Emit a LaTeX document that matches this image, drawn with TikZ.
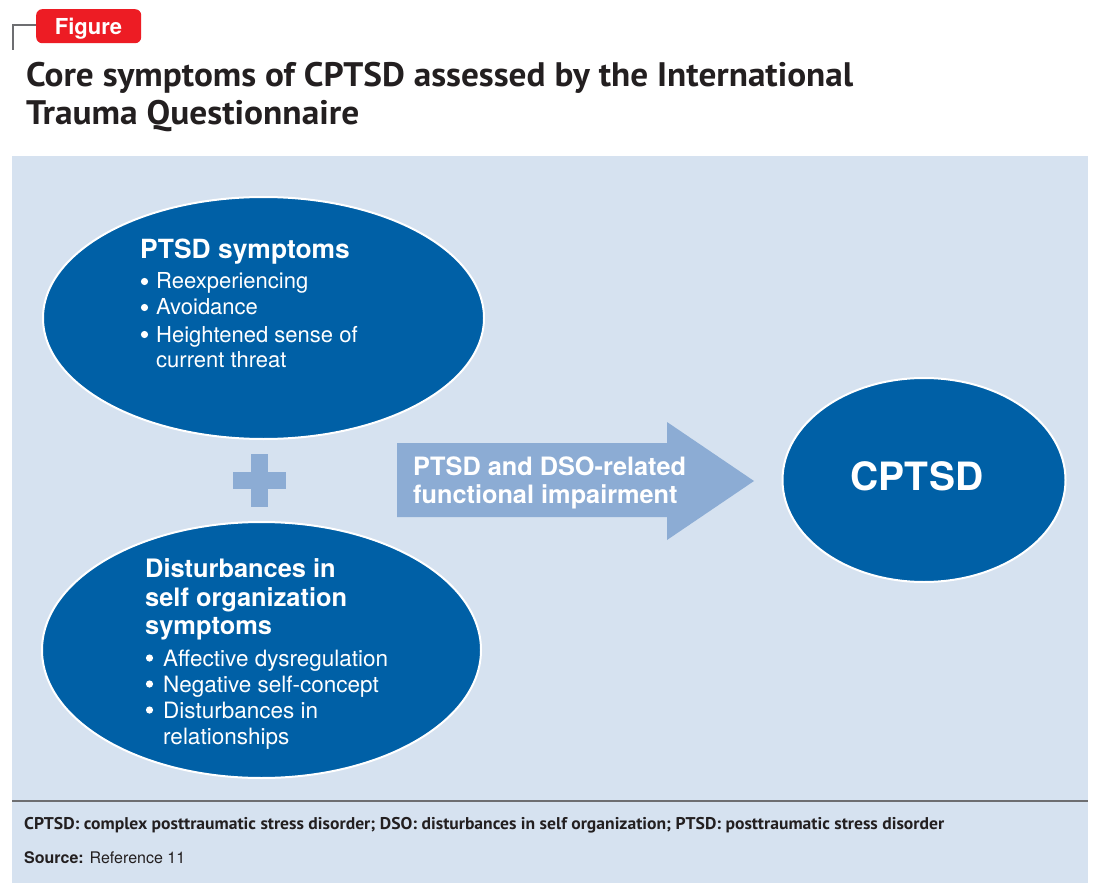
\documentclass[tikz,border=0pt]{standalone}
\usepackage{fontspec}
\usepackage{graphicx}
\setmainfont{TeX Gyre Heros}
\newfontfamily\titlefont{PT Sans}
\usetikzlibrary{shapes.geometric,calc}
\definecolor{dblue}{RGB}{0,96,166}
\definecolor{panel}{RGB}{214,226,240}
\definecolor{lblue}{RGB}{140,172,212}
\definecolor{figred}{RGB}{237,28,36}
\definecolor{ink}{RGB}{35,31,32}
\definecolor{rulegray}{RGB}{109,110,113}
\begin{document}
\begin{tikzpicture}[x=1pt,y=-1pt,
  blob/.style={ellipse, fill=dblue, draw=white, line width=2pt, inner sep=0pt},
  txt/.style={anchor=base west, inner sep=0pt, text=white},
  head/.style={txt, font=\bfseries\fontsize{26.4}{30}\selectfont},
  headb/.style={txt, font=\bfseries\fontsize{25.4}{30}\selectfont},
  item/.style={txt, font=\fontsize{22}{26}\selectfont},
  itemb/.style={txt, font=\fontsize{22.5}{26}\selectfont},
  arrowtxt/.style={txt, font=\bfseries\fontsize{25.3}{28}\selectfont},
  ttl/.style={anchor=base west, inner sep=0pt, text=ink, font=\titlefont\bfseries\fontsize{34}{38}\selectfont},
  foot/.style={anchor=base west, inner sep=0pt, text=ink},
  dot/.style={fill=white},
]
\useasboundingbox (0,0) rectangle (1100,893);
\fill[white] (0,0) rectangle (1100,893);

% header tag
\coordinate (brk) at (13,50);
\coordinate (brkend) at (37,25);
\draw[rulegray, line width=2.5pt] (brk) |- (brkend);
\node[fill=figred, rounded corners=6pt, minimum width=105pt, minimum height=34pt, anchor=north west, inner sep=0pt] (tag) at (36,9) {};
\node[anchor=base, inner sep=0pt, text=white, font=\bfseries\fontsize{22}{26}\selectfont] (taglbl) at (88.5,35) {Figure};

% title
\node[ttl] (title1) at (26,87) {\resizebox{827pt}{\height}{Core symptoms of CPTSD assessed by the International}};
\node[ttl] (title2) at (26,125) {\resizebox{333pt}{\height}{Trauma Questionnaire}};

% panel
\fill[panel] (12,156) rectangle (1088,883);
\coordinate (ruleL) at (12,801);
\coordinate (ruleR) at (1088,801);
\draw[rulegray, line width=1.2pt] (ruleL) -- (ruleR);

% footnotes
\node[foot, font=\titlefont\bfseries\fontsize{17}{20}\selectfont] (abbr) at (24,829) {\resizebox{920pt}{\height}{CPTSD: complex posttraumatic stress disorder; DSO: disturbances in self organization; PTSD: posttraumatic stress disorder}};
\node[foot, font=\fontsize{16}{19}\selectfont] (src) at (24,863) {\textbf{Source:} Reference 11};

% ellipses
\node[blob, minimum width=441pt, minimum height=242pt] (ptsd) at (263.5,318) {};
\node[blob, minimum width=439pt, minimum height=256pt] (dso) at (261.5,650) {};
\node[blob, minimum width=283pt, minimum height=204pt] (cptsd) at (924,480) {};

% plus sign
\fill[lblue] (251,454) rectangle (268,507);
\fill[lblue] (233,472) rectangle (286,489);

% block arrow
\fill[lblue] (397,443) -- (667,443) -- (667,422) -- (754,481) -- (667,540) -- (667,517) -- (397,517) -- cycle;
\node[arrowtxt] (arr1) at (413,475) {PTSD and DSO-related};
\node[arrowtxt] (arr2) at (413,503) {functional impairment};

% CPTSD label
\node[anchor=base, inner sep=0pt, text=white, font=\bfseries\fontsize{39}{42}\selectfont] (cptsdlbl) at (917,490) {CPTSD};

% PTSD ellipse text
\node[head] (ph) at (140,259) {PTSD symptoms};
\node[item] (p1) at (156,289) {Reexperiencing};
\node[item] (p2) at (156,315) {Avoidance};
\node[item] (p3) at (156,342) {Heightened sense of};
\node[item] (p4) at (156,367) {current threat};
\foreach \n in {p1,p2,p3}
  \fill[dot] ($(\n.base west)+(-11.5,-7.5)$) circle[radius=3.6pt];

% DSO ellipse text
\node[headb] (dh1) at (145,577) {Disturbances in};
\node[headb] (dh2) at (145,606) {self organization};
\node[headb] (dh3) at (145,634) {symptoms};
\node[itemb] (d1) at (163,666) {Affective dysregulation};
\node[itemb] (d2) at (163,692) {Negative self-concept};
\node[itemb] (d3) at (163,718) {Disturbances in};
\node[itemb] (d4) at (163,744) {relationships};
\foreach \n in {d1,d2,d3}
  \fill[dot] ($(\n.base west)+(-13.5,-8)$) circle[radius=3.6pt];
\end{tikzpicture}
\end{document}
